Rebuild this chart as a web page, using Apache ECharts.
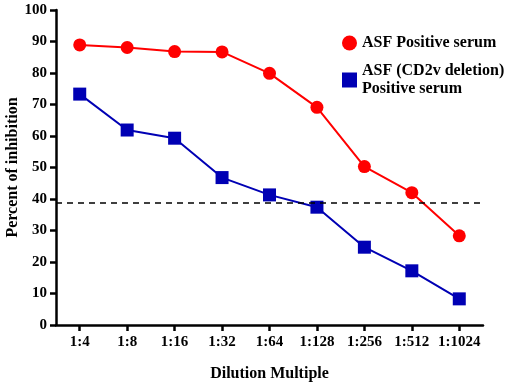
<!DOCTYPE html>
<html>
<head>
<meta charset="utf-8">
<script src="https://cdn.jsdelivr.net/npm/echarts@6/dist/echarts.min.js"></script>
<style>
  html, body { margin: 0; padding: 0; background: #fff; }
  #chart { width: 510px; height: 384px; }
</style>
</head>
<body>
<div id="chart"></div>
<script>
const categories = ['1:4', '1:8', '1:16', '1:32', '1:64', '1:128', '1:256', '1:512', '1:1024'];
const asfPositive = [88.9, 88.1, 86.8, 86.7, 79.9, 69.1, 50.3, 42.0, 28.3];
const cd2vDeletion = [73.3, 61.9, 59.3, 46.8, 41.3, 37.4, 24.7, 17.2, 8.3];
const cutoff = 38.8;

const font = 'Liberation Serif';

const chart = echarts.init(document.getElementById('chart'), null, { renderer: 'canvas' });

chart.setOption({
    animation: false,
    grid: { left: 56, right: 27, top: 10, bottom: 59, outerBoundsMode: 'none', containLabel: false },
    legend: {
        orient: 'vertical',
        left: 337,
        top: 29,
        itemWidth: 15,
        itemHeight: 15,
        itemGap: 10,
        textStyle: { fontFamily: font, fontWeight: 'bold', fontSize: 16, color: '#000', lineHeight: 18 },
        data: [
            { name: 'ASF Positive serum', icon: 'circle' },
            { name: 'ASF (CD2v deletion)\nPositive serum', icon: 'rect' }
        ]
    },
    xAxis: {
        type: 'category',
        data: categories,
        boundaryGap: true,
        name: 'Dilution Multiple',
        nameLocation: 'middle',
        nameGap: 41,
        nameMoveOverlap: false,
        nameTextStyle: { fontFamily: font, fontWeight: 'bold', fontSize: 16, color: '#000' },
        axisLine: { show: true, lineStyle: { color: '#000', width: 2.5 } },
        axisTick: { show: true, inside: false, interval: 0, alignWithLabel: true, length: 6, lineStyle: { color: '#000', width: 2.5 } },
        axisLabel: { interval: 0, fontFamily: font, fontWeight: 'bold', fontSize: 15, color: '#000', margin: 10 }
    },
    yAxis: {
        type: 'value',
        min: 0,
        max: 100,
        interval: 10,
        name: 'Percent of inhibition',
        nameLocation: 'middle',
        nameGap: 35,
        nameMoveOverlap: false,
        nameTextStyle: { fontFamily: font, fontWeight: 'bold', fontSize: 16, color: '#000' },
        axisLine: { show: true, lineStyle: { color: '#000', width: 2.5 } },
        axisTick: { show: true, inside: false, length: 6, lineStyle: { color: '#000', width: 2.5 } },
        axisLabel: { fontFamily: font, fontWeight: 'bold', fontSize: 15, color: '#000', margin: 9 },
        splitLine: { show: false }
    },
    series: [
        {
            name: 'ASF Positive serum',
            type: 'line',
            data: asfPositive,
            symbol: 'circle',
            symbolSize: 13,
            itemStyle: { color: '#ff0000' },
            lineStyle: { color: '#ff0000', width: 2 },
            markLine: {
                silent: true,
                symbol: 'none',
                label: { show: false },
                lineStyle: { color: '#000', type: [6, 5], width: 1.5 },
                data: [{ yAxis: cutoff }]
            }
        },
        {
            name: 'ASF (CD2v deletion)\nPositive serum',
            type: 'line',
            data: cd2vDeletion,
            symbol: 'rect',
            symbolSize: 13,
            itemStyle: { color: '#0000b4' },
            lineStyle: { color: '#0000b4', width: 2 }
        }
    ]
});
</script>
</body>
</html>
